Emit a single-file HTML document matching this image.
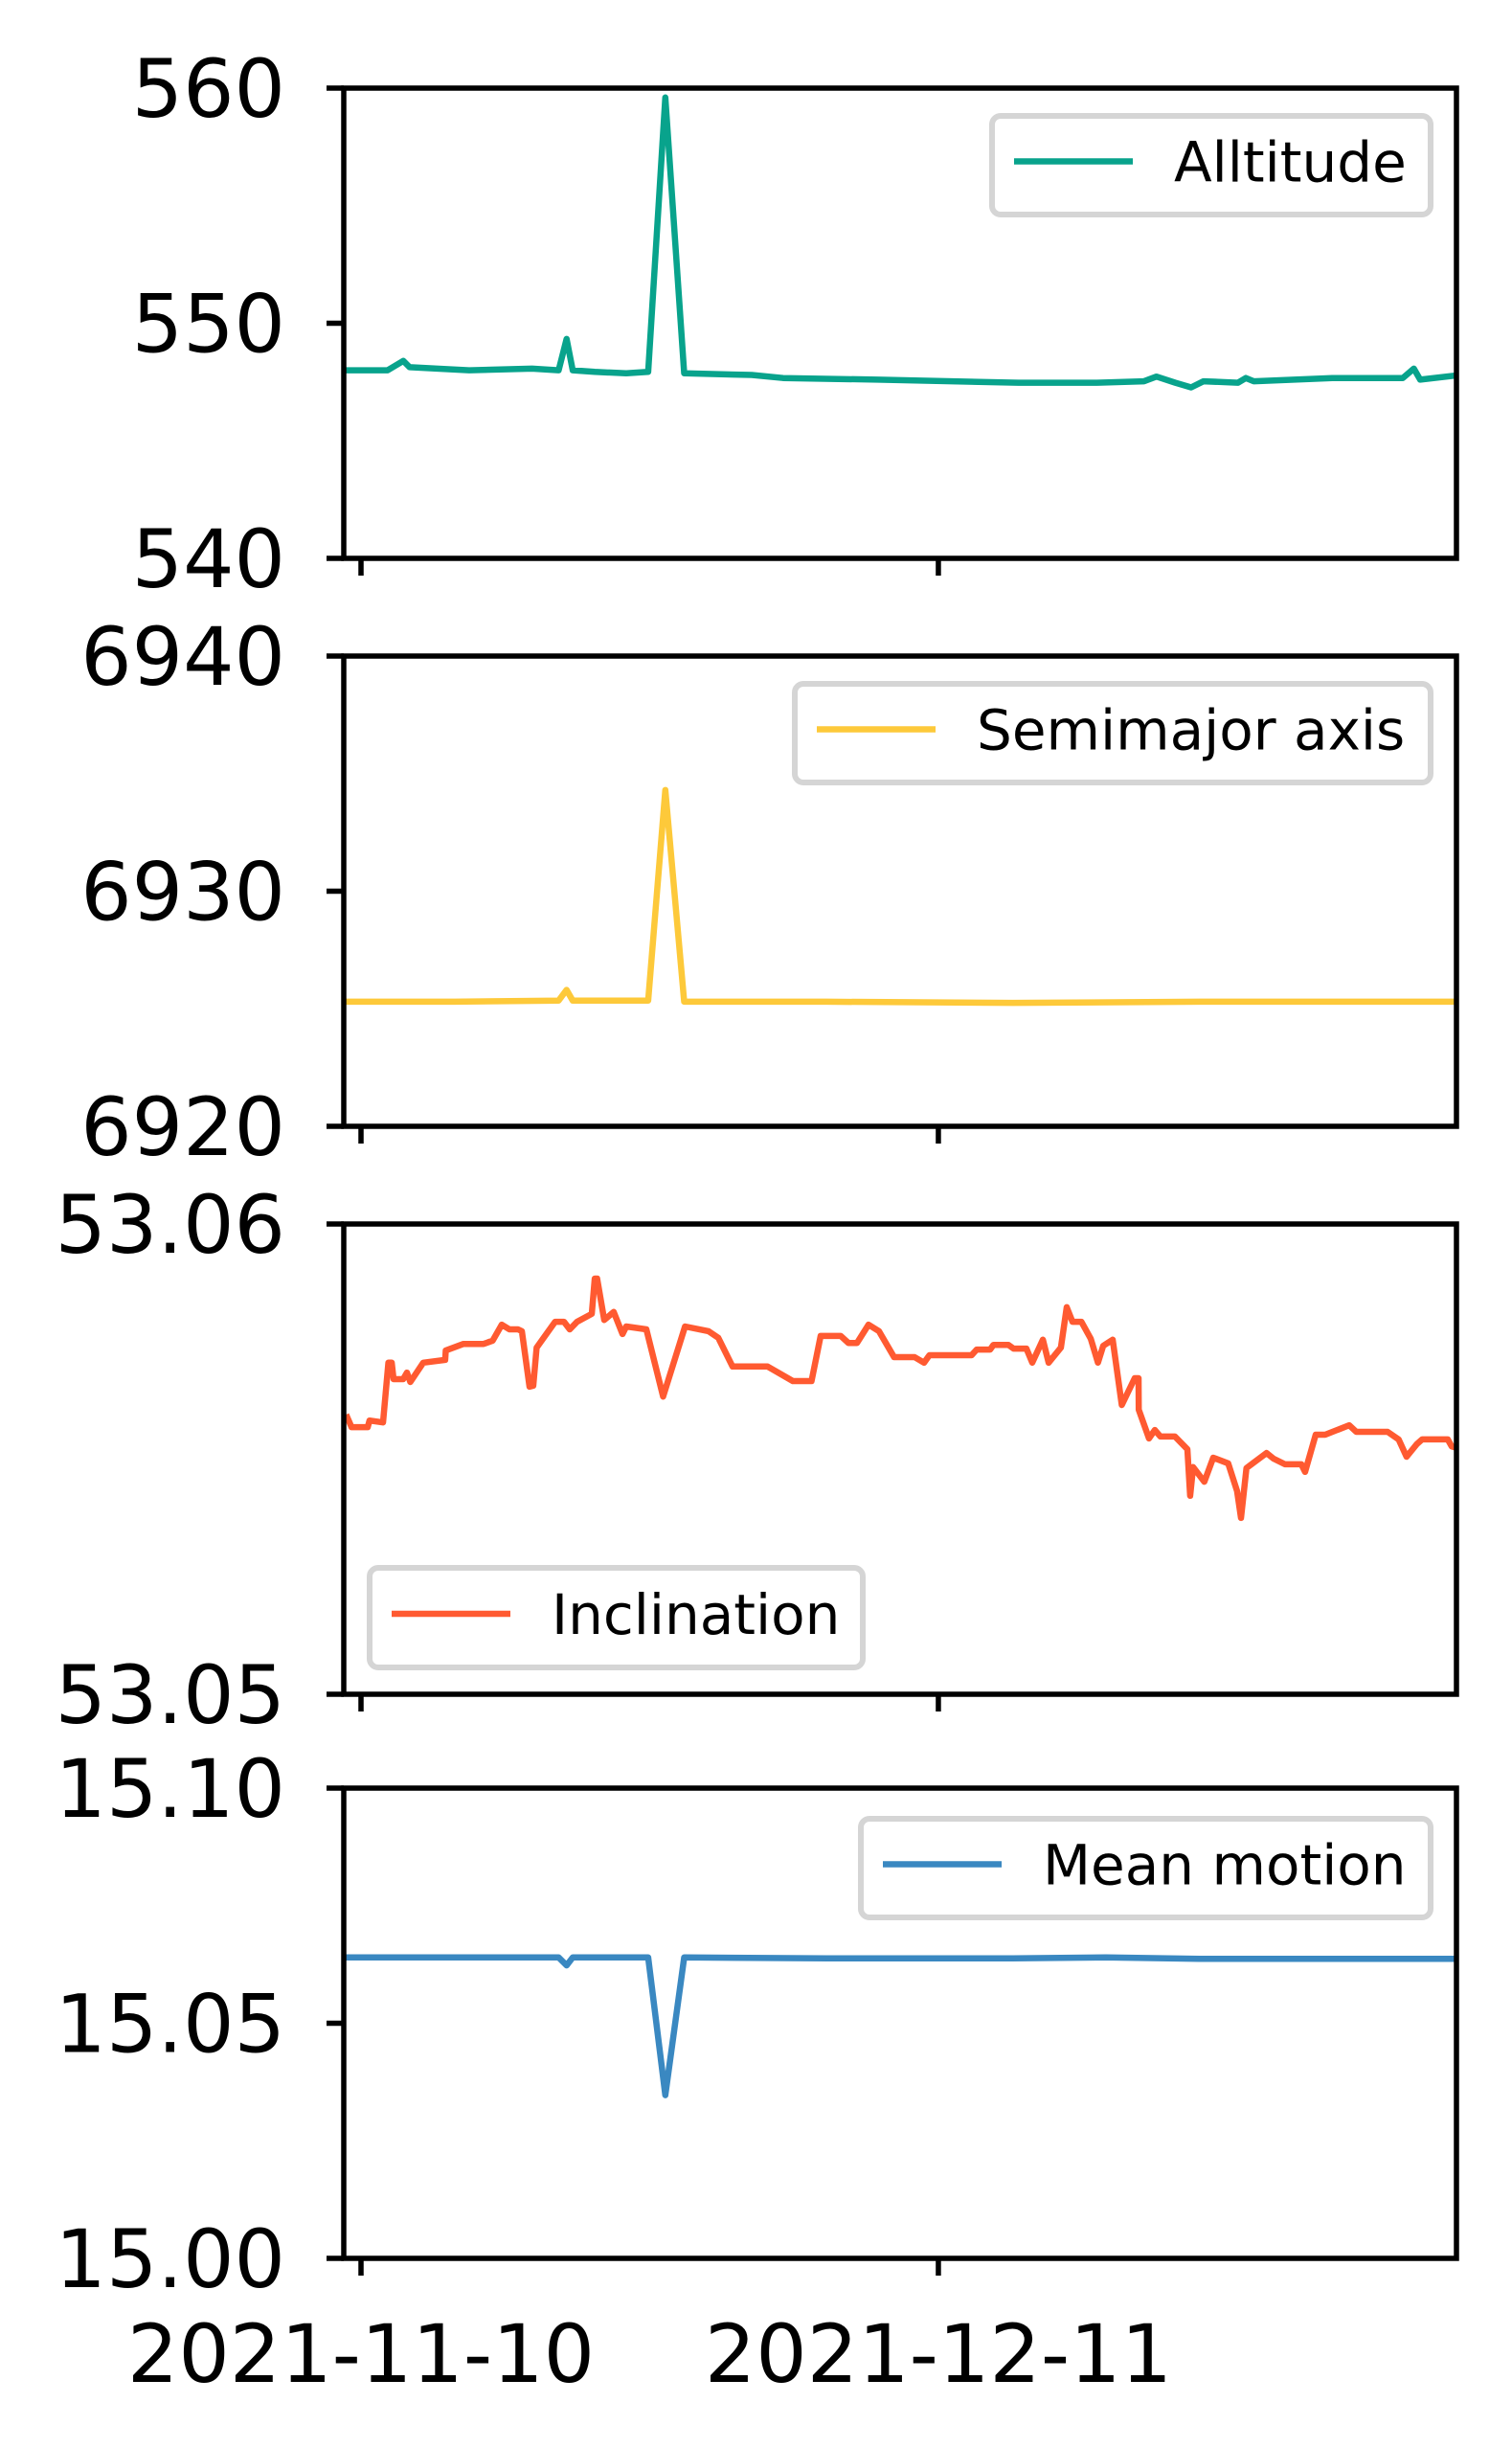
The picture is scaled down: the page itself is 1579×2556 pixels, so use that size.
<!DOCTYPE html>
<html><head><meta charset="utf-8"><style>
html,body{margin:0;padding:0;background:#fff;}
svg{display:block;font-family:"DejaVu Sans","Liberation Sans",sans-serif;}
</style></head><body>
<svg id="chart" width="1579" height="2556" viewBox="0 0 1579 2556" xmlns="http://www.w3.org/2000/svg"></svg>
<script>
// x values are days after 2021-11-10
const xTickLabels = ["2021-11-10", "2021-12-11"];
const xTickDays = [0, 31];

const altDays = [-0.93,1.43,2.27,2.61,5.81,9.18,10.61,11.04,11.37,12.55,14.24,15.42,16.34,17.35,20.98,22.66,27.72,35.30,39.51,42.04,42.71,43.72,44.57,45.24,47.09,47.51,47.94,52.15,55.94,56.53,56.87,59.06];
const altValues = [548.0,548.0,548.4,548.13,548.0,548.07,548.0,549.33,548.0,547.93,547.87,547.93,559.6,547.87,547.8,547.67,547.6,547.47,547.47,547.53,547.73,547.47,547.27,547.53,547.47,547.67,547.53,547.67,547.67,548.07,547.6,547.8];

const smaDays = [-0.93,5.0,10.61,11.04,11.37,15.42,16.34,17.35,25.0,35.0,45.0,59.06];
const smaValues = [6925.3,6925.3,6925.35,6925.8,6925.35,6925.35,6934.3,6925.3,6925.3,6925.25,6925.3,6925.3];

const incDays = [-0.80,-0.51,0.36,0.46,1.18,1.47,1.65,1.75,2.26,2.47,2.65,3.34,4.52,4.55,5.50,6.58,7.07,7.56,7.97,8.43,8.64,9.05,9.25,9.43,10.42,10.90,11.21,11.60,12.39,12.55,12.68,13.06,13.57,14.04,14.24,15.32,16.22,17.40,18.66,19.18,19.95,21.83,23.19,24.19,24.68,25.76,26.17,26.63,27.25,27.81,28.62,29.46,29.72,30.23,30.52,32.78,33.06,33.78,33.96,34.76,35.04,35.73,36.04,36.61,36.92,37.58,37.89,38.20,38.68,39.18,39.57,39.85,40.36,40.85,41.54,41.75,41.76,42.31,42.62,42.92,43.70,44.37,44.52,44.68,45.28,45.76,46.56,47.04,47.25,47.54,48.62,49.00,49.61,50.49,50.69,51.26,51.77,53.06,53.44,55.12,55.71,56.14,56.69,56.97,58.35,58.56,58.92];
const incValues = [53.05595,53.05568,53.05568,53.05582,53.05578,53.05705,53.05705,53.0567,53.0567,53.05684,53.05664,53.05705,53.05711,53.05731,53.05745,53.05745,53.05752,53.05786,53.05776,53.05776,53.05772,53.05654,53.05656,53.05737,53.05792,53.05792,53.05776,53.05792,53.05809,53.05884,53.05884,53.05796,53.05813,53.05766,53.05782,53.05776,53.05633,53.05782,53.05772,53.05758,53.05697,53.05697,53.05666,53.05666,53.05762,53.05762,53.05747,53.05747,53.05786,53.05772,53.05717,53.05717,53.05717,53.05705,53.05721,53.05721,53.05733,53.05733,53.05743,53.05743,53.05735,53.05735,53.05705,53.05754,53.05705,53.05737,53.05823,53.05792,53.05792,53.05756,53.05705,53.05741,53.05754,53.05615,53.05672,53.05672,53.05605,53.05544,53.05562,53.05548,53.05548,53.05521,53.05422,53.05483,53.05452,53.05503,53.05491,53.05432,53.05375,53.05481,53.05513,53.05501,53.05489,53.05489,53.05473,53.05552,53.05552,53.05572,53.05558,53.05558,53.05542,53.05505,53.05532,53.05542,53.05542,53.05527,53.05523];

const mmDays = [-0.93,5.0,10.61,11.04,11.37,15.42,16.34,17.35,25.0,35.0,40.0,45.0,59.06];
const mmValues = [15.064,15.064,15.064,15.0623,15.064,15.064,15.0347,15.064,15.0638,15.0638,15.064,15.0637,15.0637];

const panels = [
  {name:"altitude", label:"Alltitude", color:"#08a38c", days:altDays, vals:altValues, ymin:540, ymax:560, ticks:["540","550","560"], tickVals:[540,550,560], legend:{x:1036,y:121,w:458,h:103}},
  {name:"semimajor-axis", label:"Semimajor axis", color:"#fdc93a", days:smaDays, vals:smaValues, ymin:6920, ymax:6940, ticks:["6920","6930","6940"], tickVals:[6920,6930,6940], legend:{x:830,y:714,w:664,h:103}},
  {name:"inclination", label:"Inclination", color:"#ff5a31", days:incDays, vals:incValues, ymin:53.05, ymax:53.06, ticks:["53.05","53.06"], tickVals:[53.05,53.06], legend:{x:386,y:1637,w:515,h:104}},
  {name:"mean-motion", label:"Mean motion", color:"#3a88c1", days:mmDays, vals:mmValues, ymin:15.00, ymax:15.10, ticks:["15.00","15.05","15.10"], tickVals:[15.00,15.05,15.10], legend:{x:899,y:1899,w:595,h:103}}
];

const NS = "http://www.w3.org/2000/svg";
const svg = document.getElementById("chart");
const L = 359, R = 1521, H = 491;
const tops = [92, 685, 1278, 1867];
const pxPerDay = 19.45, x0 = 377;
function xs(d){ return x0 + d*pxPerDay; }
function mk(tag, attrs, parent){
  const e = document.createElementNS(NS, tag);
  for (const k in attrs) e.setAttribute(k, attrs[k]);
  (parent||svg).appendChild(e);
  return e;
}

panels.forEach((p, i) => {
  const top = tops[i], bot = top + H;
  const ys = v => bot - (v - p.ymin)/(p.ymax - p.ymin)*H;
  const g = mk("g", {});
  
  
  const clipId = "clip" + i;
  const cp = mk("clipPath", {id: clipId}, g);
  mk("rect", {x:L, y:top, width:R-L, height:H}, cp);
  const pts = p.days.map((d, j) => xs(d).toFixed(1) + "," + ys(p.vals[j]).toFixed(1)).join(" ");
  const line = mk("polyline", {points:pts, fill:"none", stroke:p.color, "stroke-width":6.5, "stroke-linejoin":"round", "clip-path":"url(#"+clipId+")"}, g);
  
  
  const frame = mk("rect", {x:L, y:top, width:R-L, height:H, fill:"none", stroke:"#000", "stroke-width":5.5}, g);
  
  
  p.tickVals.forEach((tv, k) => {
    const y = ys(tv);
    mk("line", {x1:L-18, x2:L, y1:y, y2:y, stroke:"#000", "stroke-width":5.5}, g);
    const t = mk("text", {x:298, y:y+30, "text-anchor":"end", "font-size":84, fill:"#000"}, g);
    t.textContent = p.ticks[k];
    
    
  });
  xTickDays.forEach(d => {
    mk("line", {x1:xs(d), x2:xs(d), y1:bot, y2:bot+18, stroke:"#000", "stroke-width":5.5}, g);
  });
  const lg = p.legend;
  const lgG = mk("g", {}, g);
  
  
  mk("rect", {x:lg.x, y:lg.y, width:lg.w, height:lg.h, rx:9, fill:"#fff", "fill-opacity":0.8, stroke:"#d5d5d5", "stroke-width":6}, lgG);
  const cy = lg.y + lg.h/2 - 4;
  mk("line", {x1:lg.x+23, x2:lg.x+147, y1:cy, y2:cy, stroke:p.color, "stroke-width":6.5}, lgG);
  const lt = mk("text", {x:lg.x+190, y:cy+21, "font-size":58, fill:"#000"}, lgG);
  lt.textContent = p.label;
  
  
});

xTickDays.forEach((d, k) => {
  const t = mk("text", {x:xs(d), y:2487, "text-anchor":"middle", "font-size":84, fill:"#000"});
  t.textContent = xTickLabels[k];
  
  
});
</script>
</body></html>
